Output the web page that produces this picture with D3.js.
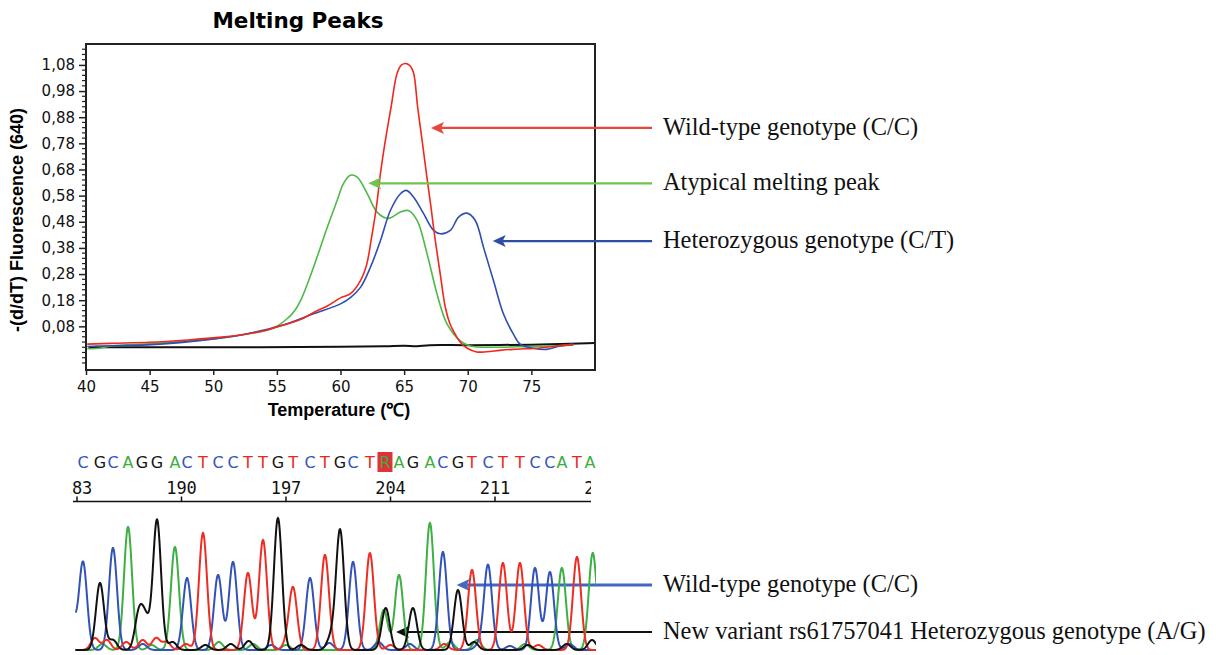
<!DOCTYPE html>
<html><head><meta charset="utf-8">
<script src="https://cdn.jsdelivr.net/npm/d3@7"></script>
<style>body{margin:0;background:#fff;}svg{display:block;}</style>
</head><body>
<svg id="c" width="1216" height="655"></svg>
<script>
// ---------- Melting peaks data ----------
const tempTicks = [40,45,50,55,60,65,70,75];
const fluorTicks = [0.08,0.18,0.28,0.38,0.48,0.58,0.68,0.78,0.88,0.98,1.08];

const wildT = [40.1,42,45,48,50,52,54,55,56,57,58,59,60,60.78,61.57,62.05,62.4,62.82,63.14,63.53,63.98,64.45,64.8,65.18,65.5,65.75,66.06,66.41,66.75,67.11,67.45,67.84,68.24,68.6,68.89,69.4,69.93,70.7,71.5,72.5,73.5,74.5,75.5,77,78.3];
const wildV = [0.012,0.015,0.019,0.028,0.036,0.046,0.063,0.078,0.092,0.109,0.136,0.159,0.189,0.205,0.255,0.315,0.408,0.536,0.665,0.792,0.92,1.048,1.08,1.085,1.075,1.048,0.92,0.792,0.665,0.536,0.408,0.28,0.152,0.09,0.061,0.02,-0.003,-0.018,-0.017,-0.012,-0.008,-0.006,-0.004,0.005,0.01];

const atypT = [40.1,41,42,44.84,47,50.04,52.7,54.75,55.8,56.4,56.86,57.88,58.96,59.74,60.24,60.78,61.31,62.09,62.87,63.76,64.71,65.33,66.02,66.8,67.58,68.36,69.41,70.2,72,74,76,78.3];
const atypV = [-0.006,-0.004,0.005,0.013,0.02,0.032,0.051,0.074,0.109,0.14,0.178,0.306,0.459,0.562,0.627,0.658,0.651,0.589,0.517,0.493,0.517,0.523,0.485,0.358,0.205,0.09,0.024,0.005,0.0,0.002,0.004,0.008];

const hetT = [40.1,40.92,44.84,50.04,52.68,55.29,57.88,60,60.78,61.57,62.35,63.14,63.92,64.71,65.18,65.75,66.53,67.32,67.84,68.63,69.28,69.94,70.59,71.24,72.02,72.81,73.59,74.12,75.16,76.2,77.25,78.3];
const hetV = [0.003,0.005,0.009,0.032,0.052,0.082,0.128,0.166,0.19,0.229,0.306,0.408,0.523,0.587,0.6,0.574,0.511,0.447,0.434,0.447,0.498,0.513,0.485,0.382,0.255,0.127,0.05,0.012,-0.004,-0.008,0.005,0.012];

const blankT = [40.2,50,60,63.5,65,66,67,70,75,78,80];
const blankV = [0.0,0.0,0.002,0.004,0.006,0.004,0.008,0.008,0.01,0.013,0.016];

const meltLabels = ["Wild-type genotype (C/C)","Atypical melting peak","Heterozygous genotype (C/T)"];
const meltColors = ["#f0281e","#4fb848","#2f4fae"];
const arrowColors = ["#e8463a","#72c24e","#2e4ea6"];
const arrowTipT = [67.11,62.18,71.96];
const arrowTipV = [0.839,0.627,0.406];

// ---------- Sequencing data ----------
const seqLetters = ["C","G","C","A","G","G","A","C","T","C","C","T","T","G","T","C","T","G","C","T","R","A","G","A","C","G","T","C","T","T","C","C","A","T","A"];
const seqPos = [183.4,184.54,185.41,186.42,187.35,188.36,189.56,190.37,191.44,192.45,193.45,194.45,195.46,196.46,197.47,198.61,199.61,200.62,201.49,202.62,203.63,204.57,205.5,206.64,207.51,208.52,209.46,210.53,211.53,212.67,213.68,214.68,215.48,216.49,217.36];
const rulerTicks = [183,190,197,204,211,218];

// trace peaks: [position, height] per channel
const peaksA = [[186.42,123],[189.56,103],[203.55,40],[204.57,75],[206.64,127],[215.48,82],[217.55,97],
  [184.7,6],[188.0,5],[192.5,8],[194.8,6],[197.0,5],[208.0,8],[209.8,10],[213.0,6]];
const peaksC = [[182.6,40],[183.4,88],[185.41,102],[190.37,72],[192.45,75],[193.45,88],[198.61,72],[201.49,88],[207.51,98],[210.53,85],[213.68,82],[214.68,78],
  [187.4,6],[196.0,5],[199.9,7],[203.2,8],[205.3,6],[209.9,5],[212.0,4],[216.0,6]];
const peaksG = [[184.54,67],[187.15,36],[187.6,28],[188.36,130],[196.46,132],[200.62,120],[203.68,42],[205.5,42],[208.52,60],
  [185.4,10],[189.4,8],[191.6,5],[193.3,6],[194.5,9],[198.0,5],[200.0,12],[209.6,8],[213.2,5],[215.8,6],[217.5,10]];
const peaksT = [[191.44,117],[194.45,77],[195.46,110],[197.47,62],[199.61,95],[202.62,97],[209.46,80],[211.53,87],[212.67,87],[216.49,93],
  [184.2,12],[185.0,10],[186.3,8],[187.4,10],[188.3,12],[189.0,8],[190.3,6],[197.0,5],[204.0,5],[207.6,6],[213.9,5]];

const seqNotes = ["Wild-type genotype (C/C)","New variant rs61757041 Heterozygous genotype (A/G)"];
const seqNoteColors = ["#4266c2","#111"];
const seqTipPos = [208.43,204.37];
const seqTipH = [65,18];

// ---------- Drawing ----------
const svg = d3.select("#c");
const L=86,R=595,T=44,B=370;
const x = d3.scaleLinear().domain([40,80]).range([L,R]);
const y = d3.scaleLinear().domain([-0.087,1.16]).range([B,T]);
const comma = v => d3.format(".2f")(v).replace(".",",");

svg.append("text").attr("x",298).attr("y",28).attr("text-anchor","middle")
  .attr("font-family","DejaVu Sans").attr("font-weight","bold").attr("font-size",21.5).text("Melting Peaks");

// y axis
const yAxis = d3.axisLeft(y).tickValues(fluorTicks).tickSize(7).tickFormat(comma);
const gy = svg.append("g").attr("transform",`translate(${L},0)`).call(yAxis);
gy.select(".domain").remove();
gy.selectAll("text").attr("font-family","DejaVu Sans").attr("font-size",15).attr("fill","#111").attr("dx",-1);
gy.selectAll("line").attr("stroke","#222").attr("stroke-width",1.5);
const minor = d3.range(-0.06,1.15,0.02).filter(v=>!fluorTicks.some(t=>Math.abs(t-v)<1e-6));
svg.append("g").selectAll("line").data(minor).join("line")
  .attr("x1",L-4).attr("x2",L).attr("y1",d=>y(d)).attr("y2",d=>y(d)).attr("stroke","#222").attr("stroke-width",1.2);

// x axis
const xAxis = d3.axisBottom(x).tickValues(tempTicks).tickSize(5).tickFormat(d3.format("d"));
const gx = svg.append("g").attr("transform",`translate(0,${B})`).call(xAxis);
gx.select(".domain").remove();
gx.selectAll("text").attr("font-family","DejaVu Sans").attr("font-size",15).attr("fill","#111").attr("dy","0.9em");
gx.selectAll("line").attr("stroke","#222").attr("stroke-width",1.5);

svg.append("text").attr("x",339).attr("y",416).attr("text-anchor","middle")
  .attr("font-family","Liberation Sans").attr("font-weight","bold").attr("font-size",18).text("Temperature (\u2103)");
svg.append("text").attr("transform","translate(23,220) rotate(-90)").attr("text-anchor","middle")
  .attr("font-family","Liberation Sans").attr("font-weight","bold").attr("font-size",18).text("-(d/dT) Fluorescence (640)");

// curves
const line = d3.line().x(d=>x(d[0])).y(d=>y(d[1])).curve(d3.curveCatmullRom);
const series = [
  {t:blankT,v:blankV,c:"#111",w:2},
  {t:atypT,v:atypV,c:meltColors[1],w:1.6},
  {t:hetT,v:hetV,c:meltColors[2],w:1.6},
  {t:wildT,v:wildV,c:meltColors[0],w:1.6}
];
svg.append("g").selectAll("path").data(series).join("path")
  .attr("d",s=>line(s.t.map((t,i)=>[t,s.v[i]]))).attr("fill","none")
  .attr("stroke",s=>s.c).attr("stroke-width",s=>s.w);

// frame
svg.append("rect").attr("x",L).attr("y",T).attr("width",R-L).attr("height",B-T)
  .attr("fill","none").attr("stroke","#222").attr("stroke-width",2);

// arrows + labels
function arrow(g,x1,y1,x2,color,w){
  g.append("line").attr("x1",x1+10).attr("x2",x2).attr("y1",y1).attr("y2",y1).attr("stroke",color).attr("stroke-width",w);
  g.append("path").attr("d",`M${x1},${y1}L${x1+13},${y1-6}L${x1+10},${y1}L${x1+13},${y1+6}Z`).attr("fill",color);
}
const ga = svg.append("g");
meltLabels.forEach((lab,i)=>{
  const tx=x(arrowTipT[i]), ty=y(arrowTipV[i]);
  arrow(ga,tx,ty,652,arrowColors[i],2.2);
  ga.append("text").attr("x",663).attr("y",ty+7).attr("font-family","Liberation Serif").attr("font-size",24.4).attr("fill","#111").text(lab);
});

// ---------- sequencing ----------
const bx = d3.scaleLinear().domain([183,218]).range([77,599.5]);
const hy = d3.scaleLinear().domain([0,140]).range([650,510]);
const baseColor = {A:"#3cae3c",C:"#3355c0",G:"#151515",T:"#e8261c",R:"#3cae3c"};

// sequence letters
const gs = svg.append("g");
const ri = seqLetters.indexOf("R");
gs.append("rect").attr("x",bx(seqPos[ri])-7.5).attr("y",452).attr("width",15).attr("height",20).attr("fill","#e0323c");
gs.selectAll("text").data(seqLetters).join("text")
  .attr("x",(d,i)=>bx(seqPos[i])).attr("y",468).attr("text-anchor","middle")
  .attr("font-family","DejaVu Sans").attr("font-size",16).attr("fill",d=>baseColor[d]).text(d=>d);

// ruler
const defs = svg.append("defs");
defs.append("clipPath").attr("id","rc").append("rect").attr("x",71).attr("y",470).attr("width",520).attr("height",40);
defs.append("clipPath").attr("id","tc").append("rect").attr("x",75).attr("y",500).attr("width",521).attr("height",160);
const gr = svg.append("g").attr("clip-path","url(#rc)");
gr.append("line").attr("x1",73).attr("x2",593).attr("y1",501.5).attr("y2",501.5).attr("stroke","#111").attr("stroke-width",1.5);
gr.selectAll(".tk").data(rulerTicks).join("line").attr("class","tk")
  .attr("x1",d=>bx(d)).attr("x2",d=>bx(d)).attr("y1",501.5).attr("y2",496.5).attr("stroke","#111").attr("stroke-width",1.5);
gr.selectAll("text").data(rulerTicks).join("text")
  .attr("x",d=>bx(d)).attr("y",494).attr("text-anchor","middle")
  .attr("font-family","DejaVu Sans Mono").attr("font-size",17).attr("fill","#111").text(d=>d);

// traces
const sig = 0.27;
const grid = d3.range(182.9,217.8,0.02);
function trace(peaks){
  return grid.map(p=>[p, peaks.reduce((s,[c,h])=>s+h*Math.exp(-((p-c)*(p-c))/(2*sig*sig)),0)]);
}
const tline = d3.line().x(d=>bx(d[0])).y(d=>hy(d[1]));
const gt = svg.append("g").attr("clip-path","url(#tc)");
[[peaksA,"#3cb043"],[peaksC,"#3352b8"],[peaksT,"#ee2d22"],[peaksG,"#111"]].forEach(([pk,col])=>{
  gt.append("path").attr("d",tline(trace(pk))).attr("fill","none").attr("stroke",col).attr("stroke-width",2);
});

// sequence annotations
seqNotes.forEach((lab,i)=>{
  const tx=bx(seqTipPos[i]), ty=hy(seqTipH[i]);
  arrow(ga,tx,ty,652,seqNoteColors[i],i===0?3:2.2);
  ga.append("text").attr("x",663).attr("y",ty+7).attr("font-family","Liberation Serif").attr("font-size",24.4).attr("fill","#111").text(lab);
});
</script>
</body></html>
